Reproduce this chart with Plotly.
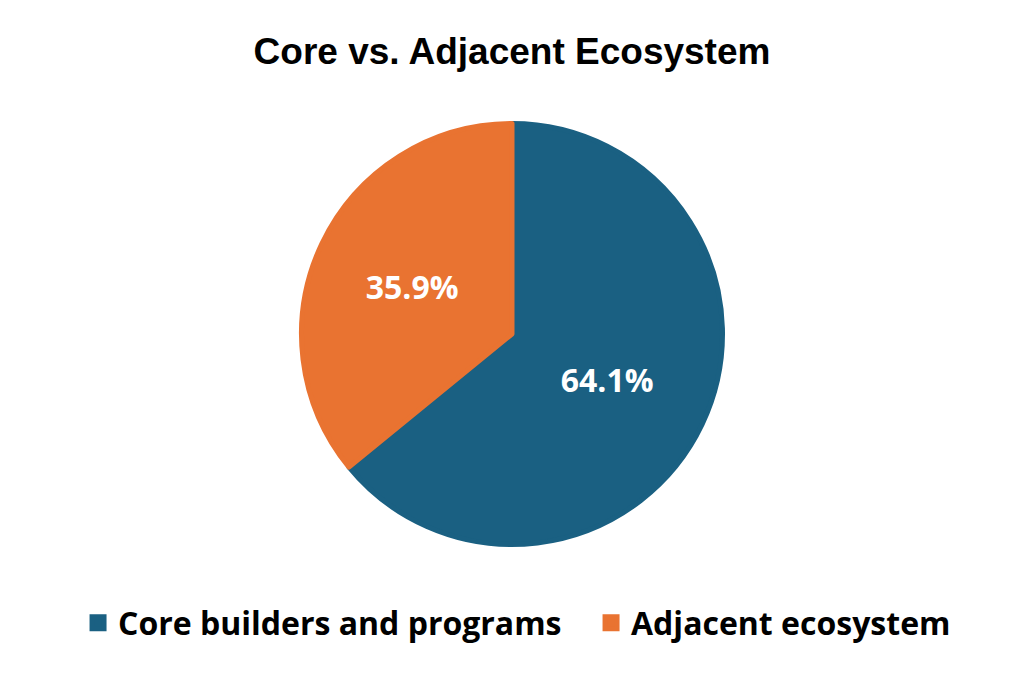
import plotly.graph_objects as go

# chart data
labels = ["Core builders and programs", "Adjacent ecosystem"]
shares = [64.1, 35.9]
colors = ["#1a6082", "#e97331"]

fig = go.Figure(go.Pie(
    labels=labels,
    values=shares,
    sort=False,
    direction="clockwise",
    rotation=0,
    marker=dict(colors=colors, line=dict(color=colors, width=5)),
    texttemplate="%{value:.1f}%",
    textposition="inside",
    insidetextorientation="horizontal",
    textfont=dict(family="Open Sans", size=32, color="white", weight="bold"),
    hoverinfo="label+percent",
    domain=dict(x=[0, 1008 / 1024], y=[2.5 / 426, 1 - 2.5 / 426]),
))

# page body adds an 8px offset, margins compensate for it
fig.update_layout(
    width=1024,
    height=683,
    paper_bgcolor="white",
    plot_bgcolor="white",
    margin=dict(l=0, r=0, t=113, b=144, autoexpand=False),
    title=dict(
        text="Core vs. Adjacent Ecosystem",
        x=0.4922, xanchor="center",
        y=0.937, yanchor="middle",
        font=dict(family="Liberation Sans", size=37, color="black", weight="bold"),
    ),
    legend=dict(
        orientation="h",
        x=0.0684, xanchor="left",
        y=-0.178, yanchor="middle",
        entrywidth=468,
        font=dict(family="Open Sans", size=32, color="black", weight="bold"),
    ),
)

fig.write_html("out.html")
